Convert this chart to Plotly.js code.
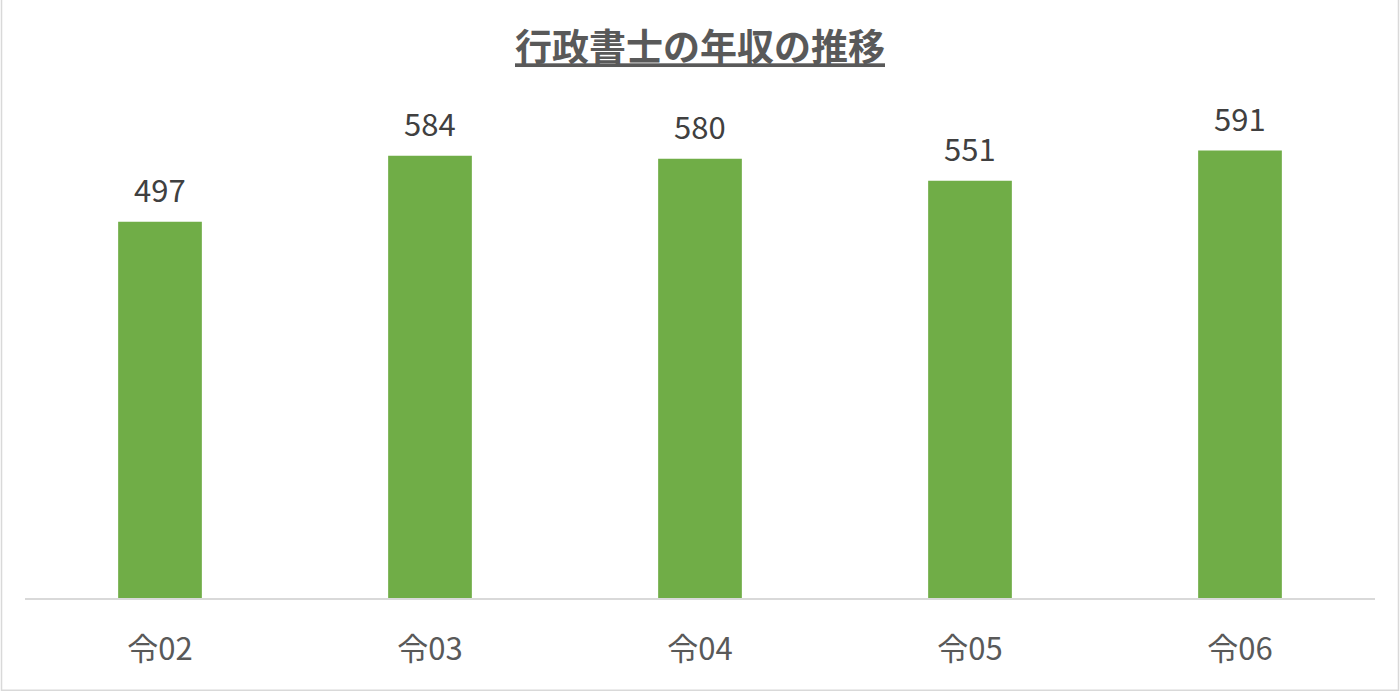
<!DOCTYPE html>
<html><head><meta charset="utf-8">
<script src="https://cdn.plot.ly/plotly-3.0.1.min.js"></script>
<style>html,body{margin:0;padding:0;background:#fff}#c{width:1400px;height:691px}</style>
</head><body><div id="c"></div>
<script>
const categories = ["令02", "令03", "令04", "令05", "令06"];
const incomeValues = [497, 584, 580, 551, 591];
const titleText = "行政書士の年収の推移";

const font = "'Noto Sans CJK JP', 'Noto Sans', sans-serif";
const trace = {
  type: 'bar', x: categories, y: incomeValues,
  marker: {color: '#70AD47'}, width: 0.31,
  hoverinfo: 'skip'
};
const annotations = categories.map((c, i) => ({
  x: c, y: incomeValues[i], xref: 'x', yref: 'y', text: String(incomeValues[i]),
  showarrow: false, yanchor: 'bottom', yshift: 9,
  font: {family: font, size: 31, color: '#404040'}
}));
const layout = {
  width: 1400, height: 691,
  margin: {l: 25, r: 25, t: 68, b: 93},
  paper_bgcolor: '#fff', plot_bgcolor: '#fff',
  title: {text: '<b><u>' + titleText + '</u></b>', x: 0.5, xanchor: 'center', y: 0.93, yanchor: 'middle',
    font: {family: font, size: 37, color: '#595959'}},
  xaxis: {type: 'category', showgrid: false, showline: true, linecolor: '#D9D9D9', linewidth: 1.5,
    ticks: '', tickfont: {family: font, size: 31, color: '#595959'}, ticklabelstandoff: 23, range: [-0.5, 4.5]},
  yaxis: {range: [0, 700], visible: false, showgrid: false, zeroline: false},
  showlegend: false,
  annotations: annotations,
  shapes: [{type: 'rect', xref: 'paper', yref: 'paper', x0: -0.0174, x1: 1.0174, y0: -0.174, y1: 1.13,
    line: {color: '#D9D9D9', width: 1.5}, fillcolor: 'rgba(0,0,0,0)'}]
};
Plotly.newPlot('c', [trace], layout, {displayModeBar: false, staticPlot: true});
</script></body></html>
